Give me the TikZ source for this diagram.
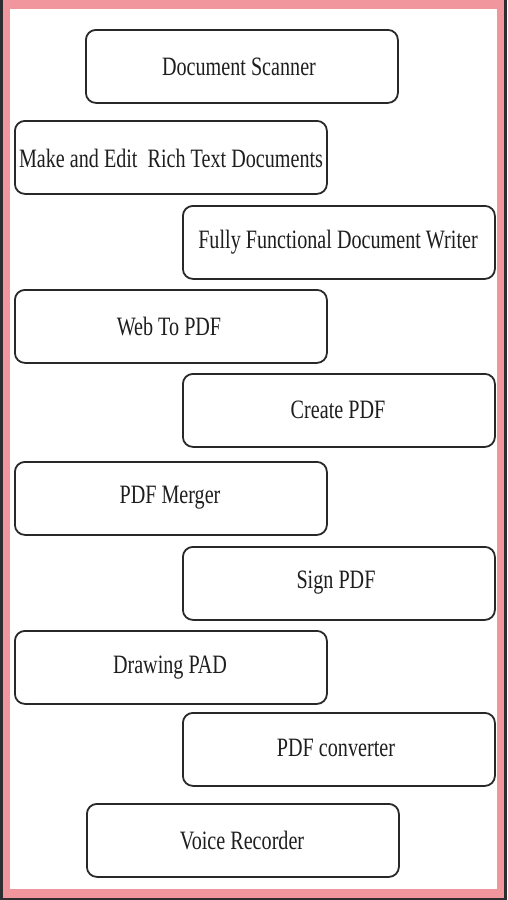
\documentclass[tikz,border=0pt]{standalone}
\usepackage{fontspec}
\setmainfont[FakeStretch=0.76]{Liberation Serif}
\definecolor{framepink}{RGB}{240,150,156}
\definecolor{edgedark}{RGB}{45,45,50}
\definecolor{boxline}{RGB}{40,40,40}
\definecolor{txt}{RGB}{30,30,30}
\tikzset{
  featbox/.style={draw=boxline, line width=1.8pt, rounded corners=10pt, fill=white,
    minimum width=312pt, minimum height=73pt, inner sep=0pt, anchor=north west},
  feattext/.style={text=txt, font=\fontsize{26.5pt}{30pt}\selectfont, inner sep=0pt}
}
\begin{document}
\begin{tikzpicture}[x=1pt,y=-1pt]
\useasboundingbox (0,0) rectangle (507,900);
\fill[edgedark] (0,0) rectangle (507,900);
\fill[framepink] (2.5,0) rectangle (504,898);
\fill[white] (9.5,9) rectangle (497,889);
% boxes
\node[featbox] (b1) at (85,29) {};
\node[featbox] (b2) at (14,120) {};
\node[featbox] (b3) at (182,205) {};
\node[featbox] (b4) at (14,289) {};
\node[featbox] (b5) at (182,373) {};
\node[featbox] (b6) at (14,461) {};
\node[featbox] (b7) at (182,546) {};
\node[featbox] (b8) at (14,630) {};
\node[featbox] (b9) at (182,712) {};
\node[featbox] (b10) at (86,803) {};
% texts
\node[feattext] (t1) at (239,67) {Document Scanner};
\node[feattext] (t2) at (171,158) {Make and Edit\ \ Rich Text Documents};
\node[feattext] (t3) at (338,242) {Fully Functional Document Writer};
\node[feattext] (t4) at (169,327) {Web To PDF};
\node[feattext] (t5) at (338,410) {Create PDF};
\node[feattext] (t6) at (170,498) {PDF Merger};
\node[feattext] (t7) at (336,583) {Sign PDF};
\node[feattext] (t8) at (170,668) {Drawing PAD};
\node[feattext] (t9) at (336,748) {PDF converter};
\node[feattext] (t10) at (242,840) {Voice Recorder};
\end{tikzpicture}
\end{document}
